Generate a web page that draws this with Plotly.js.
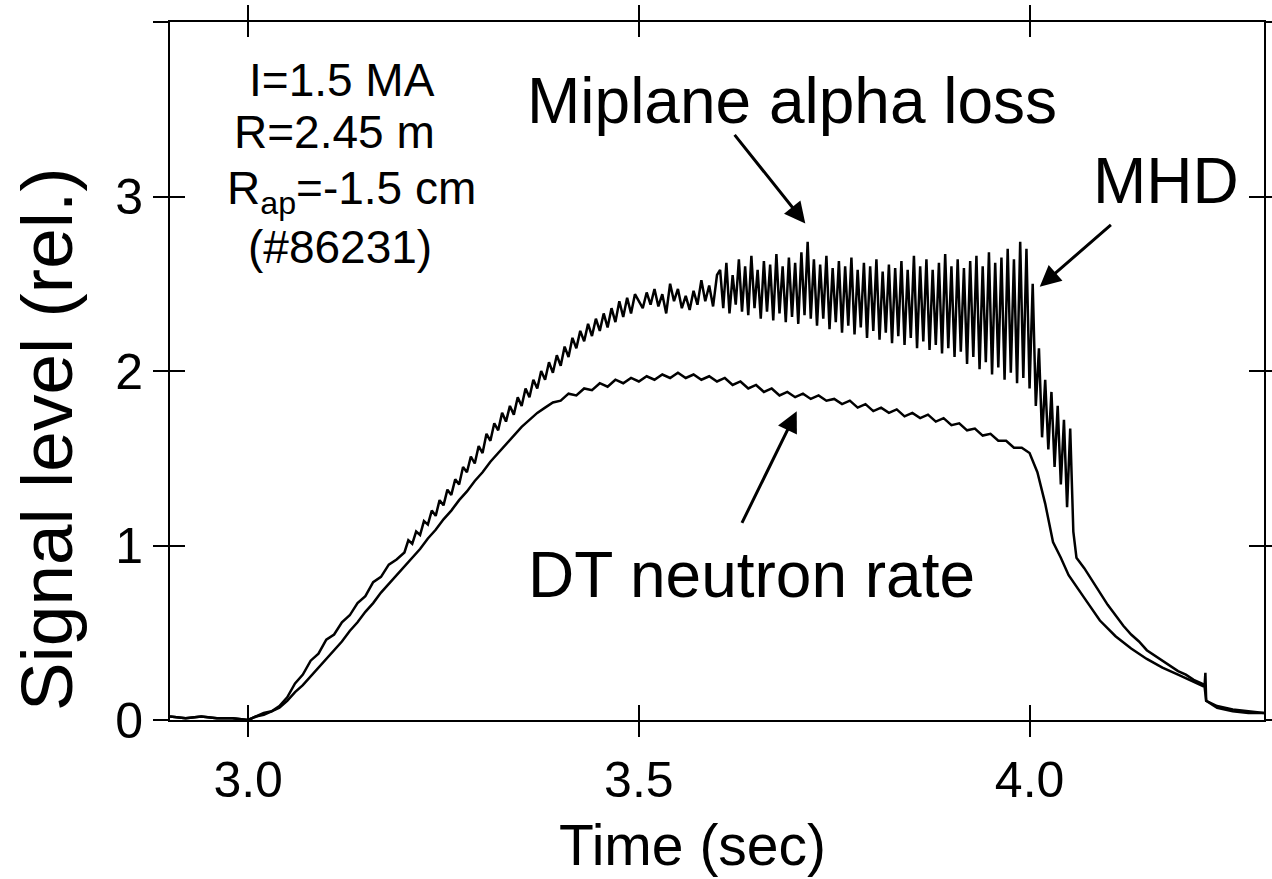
<!DOCTYPE html>
<html><head><meta charset="utf-8">
<script src="https://cdn.plot.ly/plotly-3.0.1.min.js"></script>
<style>html,body{margin:0;padding:0;background:#fff}#chart{width:1272px;height:879px}</style>
</head><body><div id="chart"></div>
<script>
// ---- data ----
const alphaTime = [
 2.900,2.920,2.940,2.960,2.980,3.000,3.010,3.020,3.030,3.040,3.050,3.060,3.070,3.080,3.090,3.100,
 3.110,3.120,3.130,3.140,3.150,3.160,3.170,3.180,3.190,
 3.200,3.205,3.210,3.215,3.220,3.225,3.230,3.235,3.240,3.245,3.250,3.255,3.260,3.265,3.270,3.275,
 3.280,3.285,3.290,3.295,3.300,3.305,3.310,3.315,3.320,3.325,3.330,3.335,3.340,3.345,3.350,3.355,
 3.360,3.365,3.370,3.375,3.380,3.385,3.390,3.395,3.400,3.405,3.410,3.415,3.420,3.425,3.430,3.435,
 3.440,3.445,3.450,3.455,3.460,3.465,3.470,3.475,3.480,3.485,3.490,3.495,
 3.500,3.505,3.510,3.515,3.520,3.525,3.530,3.535,3.540,3.545,3.550,3.555,3.560,3.565,3.570,3.575,
 3.580,3.585,3.590,3.595,3.600,
 3.604,3.608,3.612,3.616,3.620,3.624,3.628,3.632,3.636,3.640,3.644,3.648,3.652,3.656,3.660,3.664,
 3.668,3.672,3.676,3.680,3.684,3.688,3.692,3.696,3.700,3.704,3.708,3.712,3.716,3.720,3.724,3.728,
 3.732,3.736,3.740,3.744,3.748,3.752,3.756,3.760,3.764,3.768,3.772,3.776,3.780,3.784,3.788,3.792,
 3.796,3.800,3.804,3.808,3.812,3.816,3.820,3.824,3.828,3.832,3.836,3.840,3.844,3.848,3.852,3.856,
 3.860,3.864,3.868,3.872,3.876,3.880,3.884,3.888,3.892,3.896,3.900,3.904,3.908,3.912,3.916,3.920,
 3.924,3.928,3.932,3.936,3.940,3.944,3.948,3.952,3.956,3.960,3.964,3.968,3.972,3.976,3.980,3.984,
 3.988,3.992,3.996,4.000,4.004,4.008,4.012,4.016,4.020,4.024,4.028,4.032,4.036,4.040,4.044,4.048,
 4.052,4.056,4.060,4.070,4.080,4.090,4.100,4.110,4.120,4.130,4.140,4.150,4.160,4.170,4.180,4.190,
 4.200,4.210,4.220,4.224,4.225,4.226,4.240,4.260,4.280,4.300
];
const alphaLoss = [
 0.02,0.01,0.02,0.01,0.01,0.00,0.02,0.04,0.05,0.08,0.13,0.21,0.26,0.34,0.38,0.46,
 0.49,0.56,0.60,0.67,0.71,0.79,0.82,0.89,0.92,
 0.96,1.03,1.01,1.08,1.06,1.14,1.12,1.20,1.17,1.26,1.23,1.32,1.29,1.38,1.35,1.45,
 1.42,1.51,1.47,1.57,1.53,1.64,1.60,1.70,1.66,1.76,1.71,1.80,1.75,1.85,1.80,1.90,
 1.85,1.95,1.90,2.00,1.95,2.05,1.99,2.09,2.03,2.14,2.08,2.19,2.13,2.23,2.17,2.27,
 2.20,2.30,2.23,2.33,2.25,2.36,2.28,2.40,2.31,2.42,2.33,2.44,
 2.40,2.36,2.45,2.38,2.47,2.37,2.44,2.33,2.50,2.40,2.47,2.36,2.43,2.35,2.46,2.38,
 2.52,2.40,2.49,2.37,2.55,
 2.58,2.36,2.62,2.33,2.55,2.38,2.64,2.34,2.60,2.32,2.66,2.36,2.58,2.30,2.63,2.34,
 2.61,2.29,2.67,2.33,2.60,2.28,2.65,2.31,2.62,2.27,2.68,2.32,2.74,2.30,2.64,2.26,
 2.61,2.30,2.66,2.24,2.59,2.28,2.63,2.22,2.60,2.26,2.65,2.21,2.58,2.25,2.62,2.19,
 2.60,2.23,2.64,2.18,2.57,2.22,2.61,2.16,2.59,2.20,2.63,2.15,2.58,2.19,2.66,2.13,
 2.60,2.17,2.64,2.12,2.58,2.15,2.62,2.10,2.67,2.13,2.60,2.08,2.64,2.11,2.59,2.04,
 2.63,2.08,2.66,2.01,2.60,2.05,2.68,1.98,2.62,2.02,2.65,1.95,2.70,1.99,2.64,1.93,
 2.74,1.96,2.70,1.90,2.50,1.80,2.13,1.62,1.95,1.55,1.88,1.45,1.80,1.35,1.72,1.22,
 1.67,1.08,0.93,0.87,0.80,0.73,0.66,0.60,0.54,0.49,0.45,0.40,0.37,0.34,0.31,0.28,
 0.26,0.23,0.21,0.20,0.27,0.11,0.08,0.06,0.05,0.04
];
const neutronTime = [
 2.900,2.920,2.940,2.960,2.980,3.000,3.010,3.020,3.030,3.040,3.050,3.060,3.070,3.080,3.090,3.100,
 3.110,3.120,3.130,3.140,3.150,3.160,3.170,3.180,3.190,3.200,3.210,3.220,3.230,3.240,3.250,3.260,
 3.270,3.280,3.290,3.300,3.310,3.320,3.330,3.340,3.350,3.360,3.370,3.380,3.390,
 3.400,3.410,3.420,3.430,3.440,3.450,3.460,3.470,3.480,3.490,3.500,3.510,3.520,3.530,3.540,3.550,
 3.560,3.570,3.580,3.590,3.600,3.610,3.620,3.630,3.640,3.650,3.660,3.670,3.680,3.690,3.700,3.710,
 3.720,3.730,3.740,3.750,3.760,3.770,3.780,3.790,3.800,3.810,3.820,3.830,3.840,3.850,3.860,3.870,
 3.880,3.890,3.900,3.910,3.920,3.930,3.940,3.950,3.960,3.970,3.980,3.990,
 4.000,4.010,4.020,4.030,4.040,
 4.050,4.070,4.090,4.110,4.130,4.150,4.170,4.190,4.210,4.224,4.226,4.240,4.260,4.280,4.300
];
const neutronRate = [
 0.02,0.01,0.02,0.01,0.01,0.00,0.02,0.03,0.05,0.07,0.11,0.16,0.20,0.25,0.30,0.35,
 0.40,0.45,0.51,0.56,0.62,0.67,0.73,0.78,0.83,0.88,0.93,0.98,1.04,1.09,1.15,1.20,
 1.26,1.31,1.37,1.42,1.48,1.53,1.58,1.63,1.68,1.72,1.76,1.79,1.82,
 1.83,1.87,1.86,1.90,1.89,1.93,1.91,1.95,1.93,1.96,1.94,1.97,1.95,1.98,1.96,1.99,
 1.96,1.98,1.95,1.97,1.94,1.96,1.92,1.94,1.90,1.92,1.88,1.90,1.86,1.88,1.85,1.87,
 1.84,1.86,1.83,1.84,1.81,1.83,1.79,1.81,1.77,1.79,1.76,1.78,1.74,1.76,1.73,1.75,
 1.71,1.73,1.69,1.70,1.66,1.67,1.63,1.64,1.60,1.60,1.56,1.56,
 1.53,1.42,1.24,1.02,0.93,
 0.83,0.70,0.57,0.48,0.41,0.35,0.30,0.26,0.22,0.19,0.11,0.07,0.05,0.04,0.04
];
const xTickVals = [3.0, 3.5, 4.0];
const xTickText = ['3.0', '3.5', '4.0'];
const yTickVals = [0, 1, 2, 3, 4];
const yTickText = ['0', '1', '2', '3', ''];

// ---- figure ----
const FONT = '"Liberation Sans", Arial, Helvetica, sans-serif';
const lineStyle = {color: '#000', width: 2.5};
const traces = [
  {x: alphaTime, y: alphaLoss, type: 'scatter', mode: 'lines', line: lineStyle, name: 'Miplane alpha loss'},
  {x: neutronTime, y: neutronRate, type: 'scatter', mode: 'lines', line: lineStyle, name: 'DT neutron rate'},
  {x: [], y: [], xaxis: 'x2', yaxis: 'y2', type: 'scatter', mode: 'lines', showlegend: false}
];
const xr = [2.9, 4.3], yr = [0, 4];
const axBase = {showgrid: false, zeroline: false, showline: true, linecolor: '#000', linewidth: 2,
  tickcolor: '#000', tickwidth: 2, ticklen: 15, mirror: 'ticks'};
const layout = {
  width: 1272, height: 879,
  margin: {l: 170, r: 8, t: 22, b: 159},
  paper_bgcolor: '#fff', plot_bgcolor: '#fff',
  showlegend: false,
  font: {family: FONT, color: '#000'},
  xaxis: Object.assign({}, axBase, {range: xr, ticks: 'outside', tickvals: xTickVals, ticktext: xTickText,
    tickfont: {size: 50, family: FONT}}),
  yaxis: Object.assign({}, axBase, {range: yr, ticks: 'outside', tickvals: yTickVals, ticktext: yTickText,
    tickfont: {size: 50, family: FONT}}),
  xaxis2: Object.assign({}, axBase, {range: xr, overlaying: 'x', anchor: 'y2', side: 'bottom', ticks: 'inside',
    tickvals: xTickVals, showticklabels: false}),
  yaxis2: Object.assign({}, axBase, {range: yr, overlaying: 'y', anchor: 'x2', side: 'left', ticks: 'inside',
    tickvals: yTickVals, showticklabels: false}),
  annotations: [
    {xref: 'paper', yref: 'paper', x: -0.113, y: 0.403, text: 'Signal level (rel.)', textangle: -90,
     showarrow: false, font: {size: 73, family: FONT}, xanchor: 'center', yanchor: 'middle'},
    {xref: 'paper', yref: 'paper', x: 0.478, y: -0.179, text: 'Time (sec)',
     showarrow: false, font: {size: 57, family: FONT}, xanchor: 'center', yanchor: 'middle'},
    {xref: 'x', yref: 'y', x: 3.696, y: 3.55, text: 'Miplane alpha loss', showarrow: false,
     font: {size: 64, family: FONT}, xanchor: 'center', yanchor: 'middle'},
    {xref: 'x', yref: 'y', x: 4.174, y: 3.09, text: 'MHD', showarrow: false,
     font: {size: 64, family: FONT}, xanchor: 'center', yanchor: 'middle'},
    {xref: 'x', yref: 'y', x: 3.644, y: 0.83, text: 'DT neutron rate', showarrow: false,
     font: {size: 64, family: FONT}, xanchor: 'center', yanchor: 'middle'},
    {xref: 'x', yref: 'y', x: 3.120, y: 3.667, text: 'I=1.5 MA', showarrow: false,
     font: {size: 46, family: FONT}, xanchor: 'center', yanchor: 'middle'},
    {xref: 'x', yref: 'y', x: 3.110, y: 3.368, text: 'R=2.45 m', showarrow: false,
     font: {size: 46, family: FONT}, xanchor: 'center', yanchor: 'middle'},
    {xref: 'x', yref: 'y', x: 3.132, y: 3.03, text: 'R<sub>ap</sub>=-1.5 cm', showarrow: false,
     font: {size: 46, family: FONT}, xanchor: 'center', yanchor: 'middle'},
    {xref: 'x', yref: 'y', x: 3.117, y: 2.713, text: '(#86231)', showarrow: false,
     font: {size: 46, family: FONT}, xanchor: 'center', yanchor: 'middle'},
    // arrows
    {xref: 'x', yref: 'y', axref: 'x', ayref: 'y', x: 3.713, y: 2.845, ax: 3.621, ay: 3.362, text: '',
     showarrow: true, arrowhead: 2, arrowwidth: 3, arrowsize: 1.4, arrowcolor: '#000'},
    {xref: 'x', yref: 'y', axref: 'x', ayref: 'y', x: 4.013, y: 2.483, ax: 4.106, ay: 2.845, text: '',
     showarrow: true, arrowhead: 2, arrowwidth: 3, arrowsize: 1.4, arrowcolor: '#000'},
    {xref: 'x', yref: 'y', axref: 'x', ayref: 'y', x: 3.702, y: 1.770, ax: 3.631, ay: 1.121, text: '',
     showarrow: true, arrowhead: 2, arrowwidth: 3, arrowsize: 1.4, arrowcolor: '#000'}
  ]
};
Plotly.newPlot('chart', traces, layout, {displayModeBar: false, staticPlot: true});
</script>
</body></html>
